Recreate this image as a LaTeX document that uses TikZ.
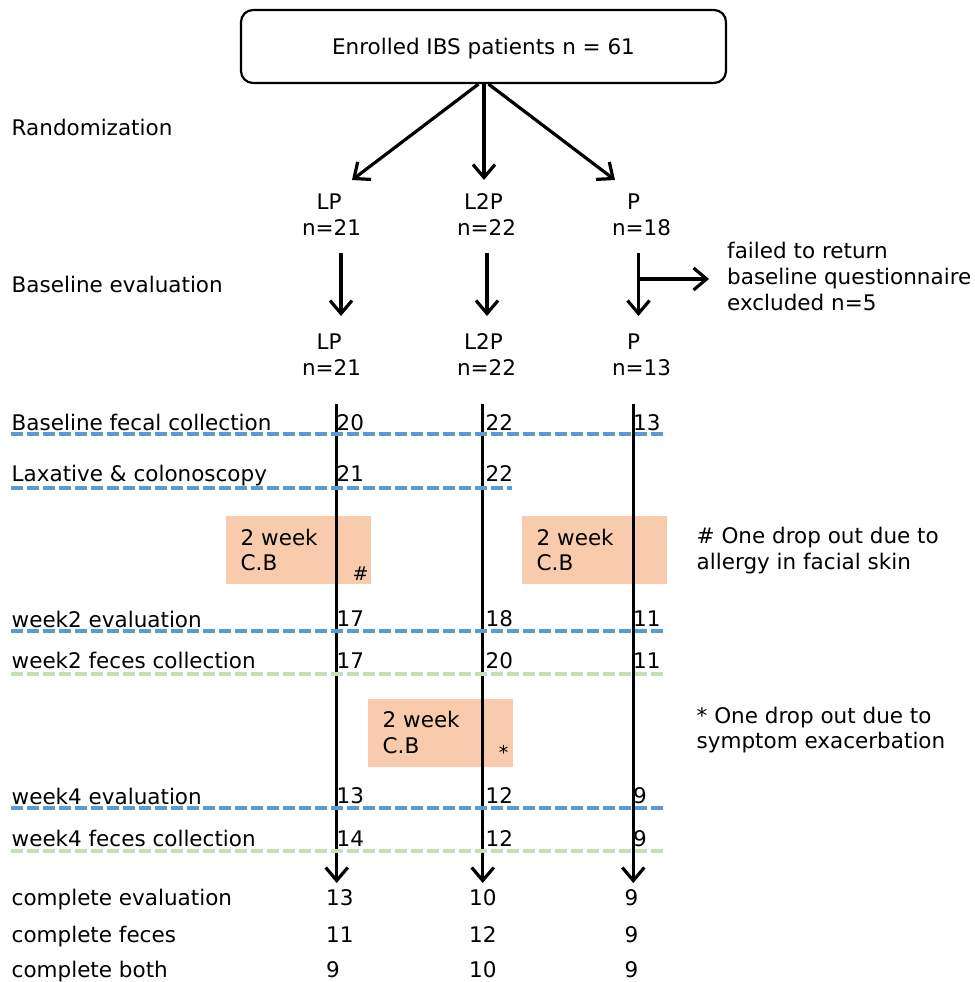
\documentclass[tikz,border=0pt]{standalone}
\usepackage{fontspec}
\setmainfont{DejaVu Sans}
\usetikzlibrary{arrows.meta}
\definecolor{dblue}{HTML}{5B9BD5}
\definecolor{dgreen}{HTML}{C5E0B4}
\definecolor{cbfill}{HTML}{F8CBAD}
\begin{document}
\begin{tikzpicture}[x=1pt,y=-1pt,
  txt/.style={inner sep=0pt, font=\fontsize{21.5pt}{26pt}\selectfont},
  lbl/.style={txt, anchor=base west},
  ctr/.style={txt, anchor=base},
  smallsym/.style={inner sep=0pt, anchor=base, font=\fontsize{19pt}{22pt}\selectfont},
  flow/.style={line width=3.2pt, -{Straight Barb[length=13pt,width=22pt]}},
  bline/.style={dblue, line width=3.2pt, dash pattern=on 11.5pt off 4.5pt},
  gline/.style={dgreen, line width=3.2pt, dash pattern=on 11.5pt off 4.5pt},
  cbbox/.style={fill=cbfill, draw=none, anchor=north west, inner sep=0pt, outer sep=0pt, minimum width=145pt, minimum height=68pt}
]
\useasboundingbox (0,0) rectangle (974,982);

% top box
\node[draw, line width=2.2pt, rounded corners=12pt, minimum width=485pt, minimum height=73pt, inner sep=0pt] (enroll) at (483.5,46.5) {};
\node[ctr] (enrolltxt) at (483.5,55) {Enrolled IBS patients n = 61};

% randomization arrows
\coordinate (tLP) at (352,180);
\coordinate (tLtwoP) at (484,180);
\coordinate (tP) at (615,180);
\draw[flow] ([xshift=-5pt]enroll.south) -- (tLP);
\draw[flow] ([xshift=0.5pt]enroll.south) -- (tLtwoP);
\draw[flow] ([xshift=5pt]enroll.south) -- (tP);

% group labels row 1
\node[ctr] (lpA) at (329,209) {LP};
\node[ctr] (lpAn) at (331.5,235) {n=21};
\node[ctr] (ltpA) at (483.5,209) {L2P};
\node[ctr] (ltpAn) at (486.5,235) {n=22};
\node[ctr] (pA) at (633.5,209) {P};
\node[ctr] (pAn) at (641.5,235) {n=18};

% baseline arrows
\coordinate (aOs) at (341,253); \coordinate (aOe) at (341,316);
\coordinate (aTs) at (487,253); \coordinate (aTe) at (487,316);
\coordinate (aPs) at (638.5,253); \coordinate (aPe) at (638.5,316);
\draw[flow] (aOs) -- (aOe);
\draw[flow] (aTs) -- (aTe);
\draw[flow] (aPs) -- (aPe);
\coordinate (br) at (638.5,279); \coordinate (brend) at (709,279);
\draw[flow] (br) -- (brend);
\node[lbl] (failA) at (727,258) {failed to return};
\node[lbl] (failB) at (727,284) {baseline questionnaire};
\node[lbl] (failC) at (727,310) {excluded n=5};

% group labels row 2
\node[ctr] (lpB) at (329,349) {LP};
\node[ctr] (lpBn) at (331.5,375) {n=21};
\node[ctr] (ltpB) at (483.5,349) {L2P};
\node[ctr] (ltpBn) at (486.5,375) {n=22};
\node[ctr] (pB) at (633.5,349) {P};
\node[ctr] (pBn) at (641.5,375) {n=13};

% orange boxes
\node[cbbox] (cbA) at (226,516) {};
\node[cbbox] (cbB) at (522,516) {};
\node[cbbox] (cbC) at (368,699) {};
\node[lbl] at (240.5,545) {2 week};
\node[lbl] at (240.5,570) {C.B};
\node[lbl] at (536.5,545) {2 week};
\node[lbl] at (536.5,570) {C.B};
\node[lbl] at (382.5,727) {2 week};
\node[lbl] at (382.5,753) {C.B};
\node[smallsym] (hash) at (360.5,580) {\#};
\node[smallsym] (star) at (503.5,759) {*};

% long arrows
\coordinate (vOs) at (336.7,404); \coordinate (vOe) at (336.7,883);
\coordinate (vTs) at (482.7,404); \coordinate (vTe) at (482.7,883);
\coordinate (vPs) at (633.3,404); \coordinate (vPe) at (633.3,883);
\draw[flow] (vOs) -- (vOe);
\draw[flow] (vTs) -- (vTe);
\draw[flow] (vPs) -- (vPe);

% dashed lines
\coordinate (dAs) at (11,434); \coordinate (dAe) at (665,434);
\coordinate (dBs) at (11,488); \coordinate (dBe) at (512,488);
\coordinate (dCs) at (11,631); \coordinate (dCe) at (665,631);
\coordinate (dDs) at (11,674); \coordinate (dDe) at (665,674);
\coordinate (dEs) at (11,808); \coordinate (dEe) at (665,808);
\coordinate (dFs) at (11,851); \coordinate (dFe) at (665,851);
\draw[bline] (dAs) -- (dAe);
\draw[bline] (dBs) -- (dBe);
\draw[bline] (dCs) -- (dCe);
\draw[gline] (dDs) -- (dDe);
\draw[bline] (dEs) -- (dEe);
\draw[gline] (dFs) -- (dFe);

% left labels
\node[lbl] at (11.5,135) {Randomization};
\node[lbl] at (11.5,292) {Baseline evaluation};
\node[lbl] at (11.5,430) {Baseline fecal collection};
\node[lbl] at (11.5,481) {Laxative \& colonoscopy};
\node[lbl] at (11.5,627) {week2 evaluation};
\node[lbl] at (11.5,668) {week2 feces collection};
\node[lbl] at (11.5,804) {week4 evaluation};
\node[lbl] at (11.5,846) {week4 feces collection};
\node[lbl] at (11.5,905) {complete evaluation};
\node[lbl] at (11.5,942) {complete feces};
\node[lbl] at (11.5,977) {complete both};

% numbers
\node[lbl] at (336.5,430) {20}; \node[lbl] at (485.5,430) {22}; \node[lbl] at (633,430) {13};
\node[lbl] at (336.5,481) {21}; \node[lbl] at (485.5,481) {22};
\node[lbl] at (336.5,626) {17}; \node[lbl] at (485.5,626) {18}; \node[lbl] at (633,626) {11};
\node[lbl] at (336.5,668) {17}; \node[lbl] at (485.5,668) {20}; \node[lbl] at (633,668) {11};
\node[lbl] at (336.5,803) {13}; \node[lbl] at (485.5,803) {12}; \node[lbl] at (633,803) {9};
\node[lbl] at (336.5,846) {14}; \node[lbl] at (485.5,846) {12}; \node[lbl] at (633,846) {9};
\node[lbl] at (326,905) {13}; \node[lbl] at (469,905) {10}; \node[lbl] at (624.5,905) {9};
\node[lbl] at (326,942) {11}; \node[lbl] at (469,942) {12}; \node[lbl] at (624.5,942) {9};
\node[lbl] at (326,977) {9};  \node[lbl] at (469,977) {10}; \node[lbl] at (624.5,977) {9};

% notes
\node[lbl] at (696.5,543) {\# One drop out due to};
\node[lbl] at (696.5,569) {allergy in facial skin};
\node[lbl] at (696.5,723) {* One drop out due to};
\node[lbl] at (696.5,748) {symptom exacerbation};
\end{tikzpicture}
\end{document}
